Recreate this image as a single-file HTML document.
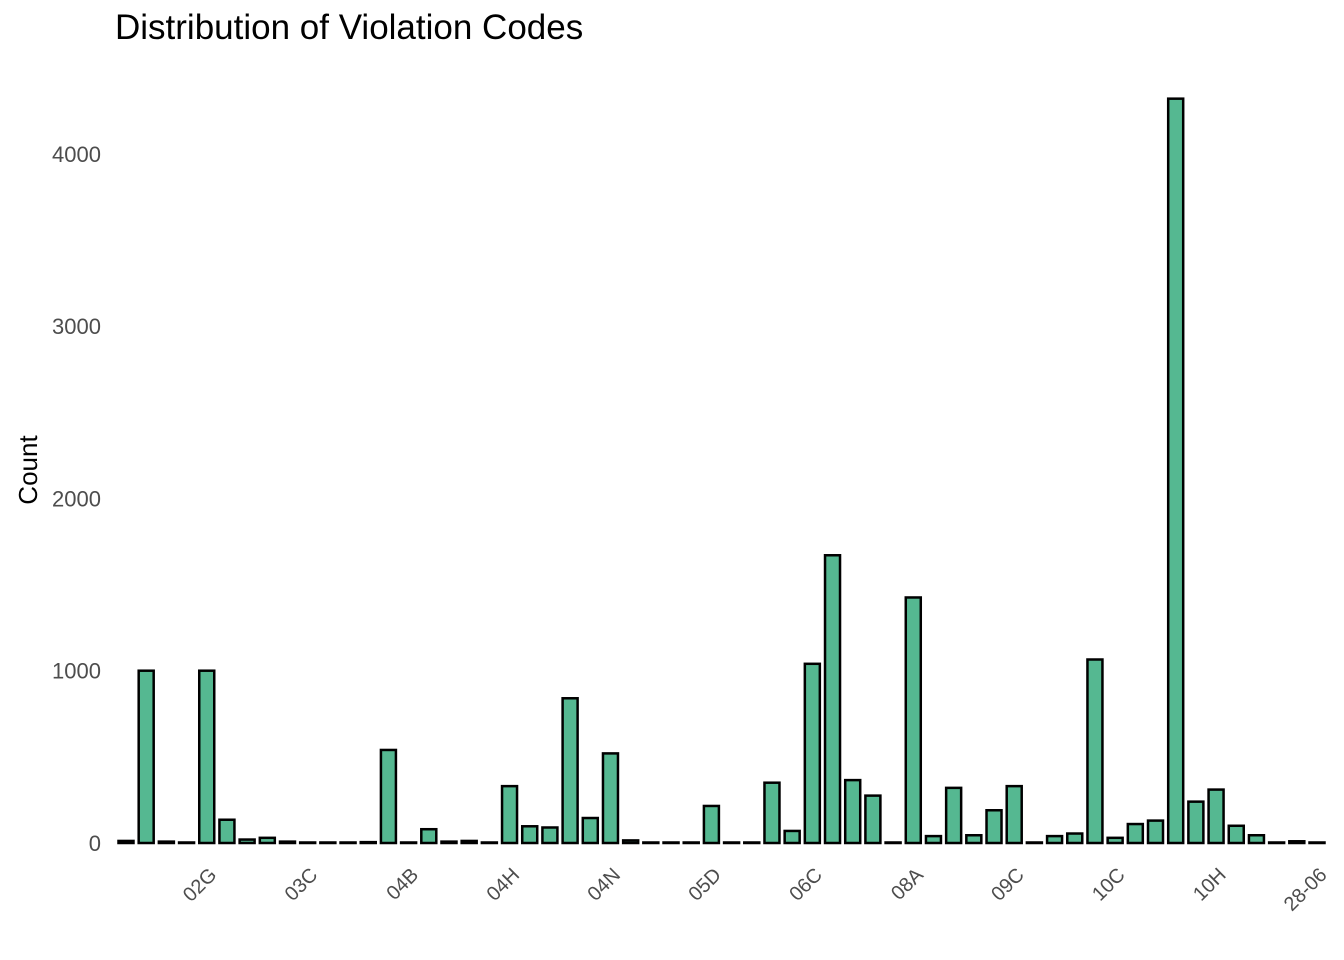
<!DOCTYPE html>
<html><head><meta charset="utf-8"><style>
html,body{margin:0;padding:0;background:#fff;}
svg{display:block;font-family:"Liberation Sans",Arial,sans-serif;}
</style></head><body>
<svg id="chart" width="1344" height="960">
<text x="115" y="39" font-size="35" fill="#000">Distribution of Violation Codes</text>
<text transform="translate(37,470) rotate(-90)" text-anchor="middle" font-size="26" fill="#000">Count</text>
<g id="yticks"></g><g id="bars"></g><g id="xticks"></g>
</svg>
<script>
const categories = ["02A","02B","02C","02D","02G","02H","02I","03A","03B","03C","03D","03E","03F","03G","04B","04C","04D","04E","04F","04H","04J","04K","04L","04M","04N","04O","05A","05B","05C","05D","05E","05F","06A","06B","06C","06D","06E","06F","06G","08A","08B","08C","08D","09A","09C","09D","09E","10A","10B","10C","10D","10E","10F","10G","10H","10I","15I","16A","22A","28-06"];
const counts = [12,1000,8,3,1000,135,20,30,8,3,3,3,5,540,3,80,8,12,3,330,97,90,840,145,520,15,3,3,3,215,3,3,350,70,1040,1670,365,275,3,1425,40,320,45,190,330,3,40,55,1065,30,110,130,4320,240,310,100,45,3,10,3];
const yTicks = [0,1000,2000,3000,4000];
const tickEvery = 5, tickStart = 4;

const NS="http://www.w3.org/2000/svg";
const x0=126, pitch=(1317-126)/(categories.length-1), barW=15;
const yBase=843, pxPer=172.3/1000;
const xPos=i=>x0+i*pitch;
const yPos=v=>yBase-v*pxPer;
const yt=document.getElementById('yticks');
yTicks.forEach(t=>{
  const el=document.createElementNS(NS,'text');
  el.setAttribute('x',101);el.setAttribute('y',yPos(t)+8);
  el.setAttribute('text-anchor','end');el.setAttribute('font-size','22');el.setAttribute('fill','#4d4d4d');
  el.textContent=t;
  
  
  yt.appendChild(el);
});
const bg=document.getElementById('bars');
counts.forEach((v,i)=>{
  const r=document.createElementNS(NS,'rect');
  const y=yPos(v);
  r.setAttribute('x',xPos(i)-barW/2);r.setAttribute('y',y);
  r.setAttribute('width',barW);r.setAttribute('height',Math.max(0.01,yBase-y));
  r.setAttribute('fill','#55b891');r.setAttribute('stroke','#000');r.setAttribute('stroke-width','2.5');
  
  
  bg.appendChild(r);
});
const xt=document.getElementById('xticks');
categories.forEach((c,i)=>{
  if(i<tickStart||(i-tickStart)%tickEvery) return;
  const t=document.createElementNS(NS,'text');
  const x=xPos(i)+11, y=876;
  t.setAttribute('transform','translate('+x+','+y+') rotate(-45)');
  t.setAttribute('text-anchor','end');t.setAttribute('font-size','20');t.setAttribute('fill','#4d4d4d');
  t.textContent=c;
  
  
  xt.appendChild(t);
});
</script>
</body></html>
